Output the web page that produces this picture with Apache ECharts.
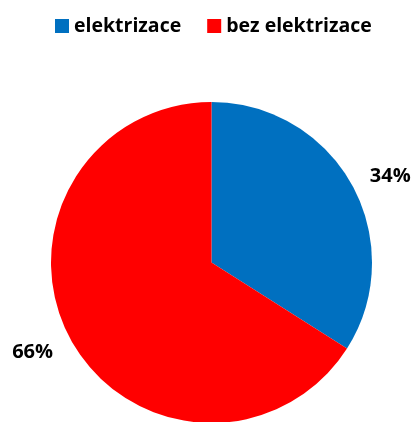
<!DOCTYPE html>
<html>
<head>
<meta charset="utf-8">
<script src="https://cdn.jsdelivr.net/npm/echarts@6/dist/echarts.min.js"></script>
<style>
  html, body { margin: 0; padding: 0; background: #fff; }
  #chart { width: 414px; height: 422px; }
</style>
</head>
<body>
<div id="chart"></div>
<script>
// Share of track with and without electrification
const categories = ['elektrizace', 'bez elektrizace'];
const shares = [34, 66];
const colors = ['#0070C0', '#FF0000'];

const FONT = 'Open Sans';

const chart = echarts.init(document.getElementById('chart'), null, { renderer: 'canvas' });

chart.setOption({
  animation: false,
  color: colors,
  legend: {
    data: categories,
    top: 11,
    left: 50,
    itemWidth: 14,
    itemHeight: 14,
    itemGap: 26,
    icon: 'rect',
    textStyle: { fontFamily: FONT, fontWeight: 'bold', fontSize: 19.5, color: '#000' }
  },
  series: [{
    type: 'pie',
    center: [211.5, 262.5],
    radius: 160.5,
    startAngle: 90,
    clockwise: true,
    avoidLabelOverlap: false,
    label: {
      show: true,
      position: 'outside',
      fontFamily: FONT,
      fontWeight: 'bold',
      fontSize: 20,
      color: '#000',
      formatter: p => Math.round(p.percent) + '%'
    },
    labelLine: { show: false },
    data: categories.map((name, i) => ({
      name,
      value: shares[i],
      labelLine: i === 0 ? { length: 19, length2: -4 } : { length: 26, length2: -10 }
    }))
  }]
});
</script>
</body>
</html>
